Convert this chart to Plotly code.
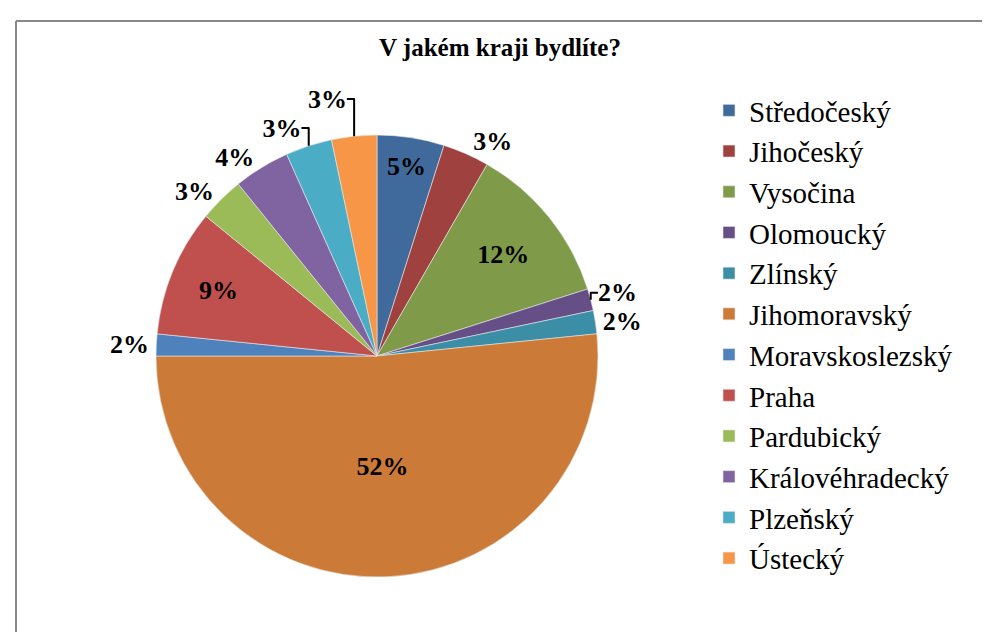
import plotly.graph_objects as go

regions = ["Středočeský", "Jihočeský", "Vysočina", "Olomoucký", "Zlínský", "Jihomoravský",
           "Moravskoslezský", "Praha", "Pardubický", "Královéhradecký", "Plzeňský", "Ústecký"]
shares = [4.9, 3.4, 11.8, 1.6, 1.7, 51.6, 1.6, 9.3, 3.3, 4.1, 3.4, 3.3]
colors = ["#416A9C", "#9F413F", "#7F9A48", "#664E87", "#3B8EA6", "#CC7A37",
          "#4F81BD", "#C0504D", "#9BBB59", "#8064A2", "#4BACC6", "#F79646"]
text_pos = ["inside", "outside", "inside", "outside", "outside", "inside",
            "outside", "inside", "outside", "outside", "outside", "outside"]

W, H = 990, 632
cx, cy, r = 369, 348, 221
SERIF = "Liberation Serif, Times New Roman, serif"

fig = go.Figure(go.Pie(
    labels=regions,
    values=shares,
    sort=False,
    direction="clockwise",
    rotation=0,
    marker=dict(colors=colors, line=dict(color="#E8E8E8", width=0.6)),
    texttemplate="%{percent:.0%}",
    textposition=text_pos,
    insidetextorientation="horizontal",
    textfont=dict(family=SERIF, size=26, color="black", weight="bold"),
    domain=dict(x=[(cx - r) / W, (cx + r) / W], y=[(H - cy - r) / H, (H - cy + r) / H]),
    hoverinfo="label+percent",
))

fig.update_layout(
    width=W, height=H,
    margin=dict(l=0, r=0, t=0, b=0),
    paper_bgcolor="white",
    plot_bgcolor="white",
    showlegend=True,
    legend=dict(
        x=701 / W, y=1 - 77 / H, xanchor="left", yanchor="top",
        font=dict(family=SERIF, size=29, color="black"),
        bgcolor="rgba(0,0,0,0)",
        traceorder="normal",
    ),
    annotations=[dict(
        text="V jakém kraji bydlíte?", x=492 / W, y=1 - 39 / H,
        xref="paper", yref="paper", xanchor="center", yanchor="middle",
        showarrow=False,
        font=dict(family=SERIF, size=25, color="black", weight="bold"),
    )],
    shapes=[
        dict(type="line", xref="paper", yref="paper", x0=8 / W, x1=1.01, y0=1 - 13 / H, y1=1 - 13 / H,
             line=dict(color="#888888", width=2)),
        dict(type="line", xref="paper", yref="paper", x0=8 / W, x1=8 / W, y0=1 - 13 / H, y1=-0.01,
             line=dict(color="#888888", width=2)),
    ],
)

fig.write_html("out.html")
